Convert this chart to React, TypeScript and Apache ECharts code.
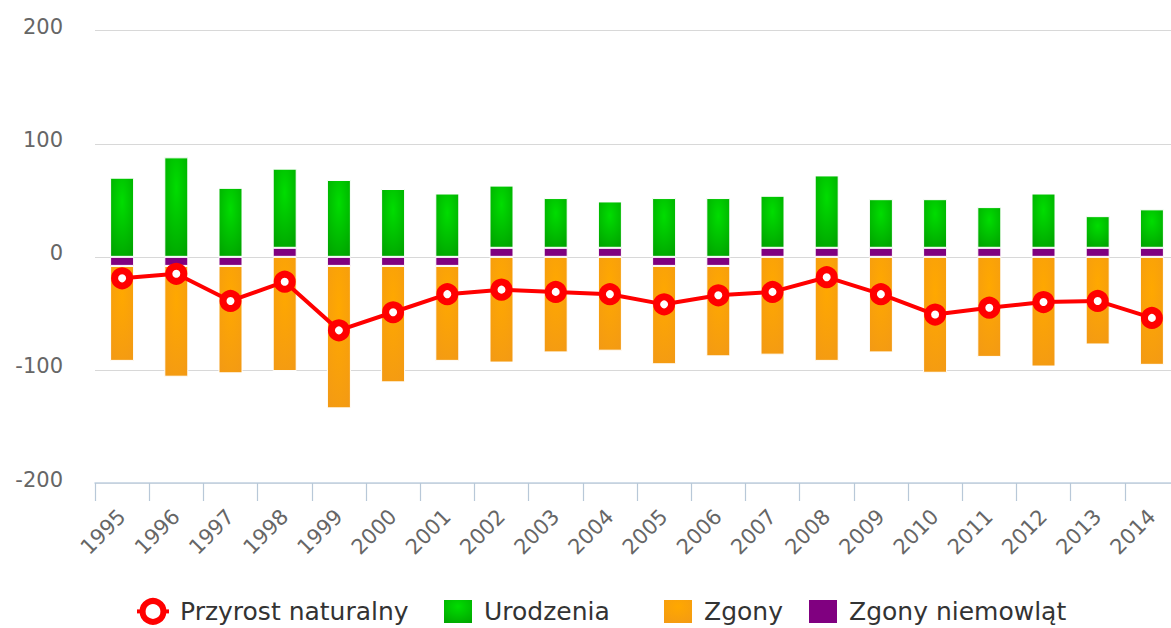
import React, { useEffect, useRef } from "react";
import * as echarts from "echarts";

const years = ["1995","1996","1997","1998","1999","2000","2001","2002","2003","2004","2005","2006","2007","2008","2009","2010","2011","2012","2013","2014"];
const przyrost = [-19, -15, -39, -22, -65, -49, -33, -29, -31, -33, -42, -34, -31, -18, -33, -51, -45, -40, -39, -54];
const urodzenia = [70, 88, 61, 70, 68, 60, 56, 55, 44, 41, 52, 52, 46, 64, 43, 43, 36, 48, 28, 34];
const zgony = [-84, -98, -95, -101, -126, -103, -84, -93.5, -84.5, -83, -87, -80, -86.5, -92, -84.5, -102.5, -88.5, -97, -77.5, -95.5];
const zgonyNiemowlat = [-8, -8, -8, 8, -8, -8, -8, 8, 8, 8, -8, -8, 8, 8, 8, 8, 8, 8, 8, 8];
const yTicks = [-200, -100, 0, 100, 200];
const legendNames = ["Przyrost naturalny", "Urodzenia", "Zgony", "Zgony niemowląt"];
const legendLefts = [130, 437, 657, 802];

const FONT = "DejaVu Sans";

export default function App() {
  const ref = useRef<HTMLDivElement>(null);
  useEffect(() => {
    if (!ref.current) return;
    const chart = echarts.init(ref.current, undefined, { renderer: "svg" });
    const green = {
      type: "radial", x: 0.5, y: 0.3, r: 0.8,
      colorStops: [{ offset: 0, color: "#00dd00" }, { offset: 1, color: "#00a300" }],
    };
    const orange = {
      type: "radial", x: 0.5, y: 0.3, r: 0.8,
      colorStops: [{ offset: 0, color: "#ffa800" }, { offset: 1, color: "#f39a14" }],
    };
    const legends = legendNames.map((name, i) => ({
      left: legendLefts[i],
      top: 593,
      itemWidth: i === 0 ? 32 : 30,
      itemHeight: i === 0 ? 26 : 25,
      textStyle: { fontFamily: FONT, fontSize: 25, color: "#333", padding: [0, 0, 0, 6] },
      data: [
        i === 0
          ? {
              name,
              itemStyle: { color: "#ffffff", borderColor: "#ff0000", borderWidth: 6 },
              lineStyle: { color: "#ff0000", width: 4 },
            }
          : { name, icon: "rect" },
      ],
    }));
    chart.setOption({
      animation: false,
      textStyle: { fontFamily: FONT },
      grid: { left: 95, right: 11, top: 30.7, bottom: 145, containLabel: false },
      legend: legends,
      xAxis: {
        type: "category",
        data: years,
        axisLine: { onZero: false, lineStyle: { color: "#c0d0e0", width: 1.5 } },
        axisTick: { show: true, length: 18, lineStyle: { color: "#b8c8d8", width: 1.2 } },
        axisLabel: { rotate: 45, margin: 30, color: "#666", fontSize: 21, fontFamily: FONT },
        splitLine: { show: false },
      },
      yAxis: {
        type: "value",
        min: yTicks[0],
        max: yTicks[yTicks.length - 1],
        interval: 100,
        axisLine: { show: false },
        axisTick: { show: false },
        axisLabel: { color: "#666", fontSize: 21, fontFamily: FONT, margin: 32, verticalAlign: "bottom", lineHeight: 7 },
        splitLine: { lineStyle: { color: "#d8d8d8", width: 1.2 } },
      },
      series: [
        {
          name: "Zgony niemowląt", type: "bar", stack: "s", barWidth: 24,
          data: zgonyNiemowlat,
          itemStyle: { color: "#800080", borderColor: "#fff", borderWidth: 1 },
        },
        {
          name: "Urodzenia", type: "bar", stack: "s", barWidth: 24,
          data: urodzenia,
          itemStyle: { color: green, borderColor: "#fff", borderWidth: 1 },
        },
        {
          name: "Zgony", type: "bar", stack: "s", barWidth: 24,
          data: zgony,
          itemStyle: { color: orange, borderColor: "#fff", borderWidth: 1 },
        },
        {
          name: "Przyrost naturalny", type: "line", data: przyrost, z: 5,
          symbol: "circle", symbolSize: 15,
          lineStyle: { color: "#ff0000", width: 4 },
          itemStyle: { color: "#ffffff", borderColor: "#ff0000", borderWidth: 7 },
        },
      ],
    });
    return () => chart.dispose();
  }, []);
  return (
    <div style={{ position: "absolute", left: 0, top: 0, width: 1171, height: 628, overflow: "hidden", background: "#fff" }}>
      <div ref={ref} style={{ width: 1190, height: 628 }} />
    </div>
  );
}
